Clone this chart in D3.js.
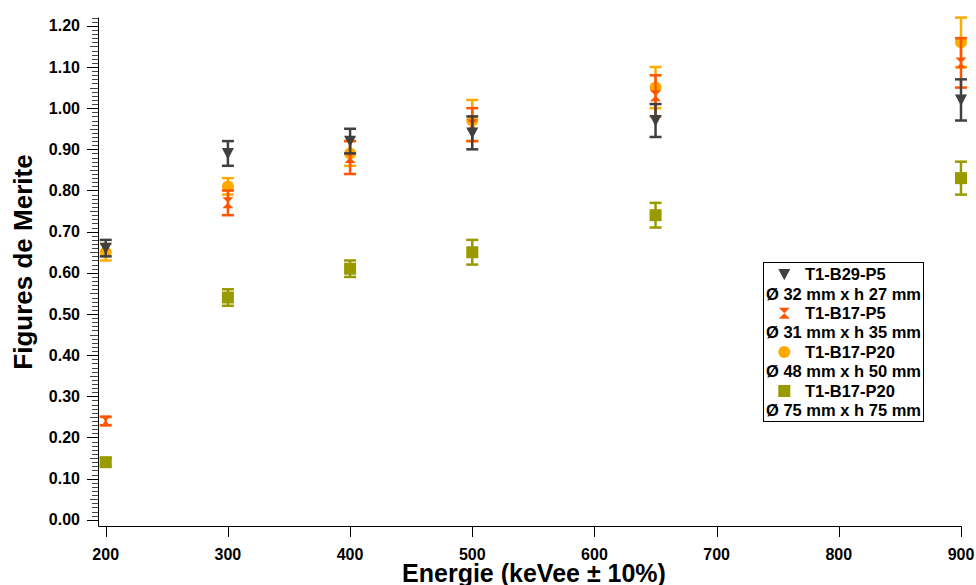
<!DOCTYPE html>
<html>
<head>
<meta charset="utf-8">
<script src="https://cdn.jsdelivr.net/npm/d3@7/dist/d3.min.js"></script>
<style>
  html, body { margin: 0; padding: 0; background: #fff; }
  svg { display: block; font-family: "Liberation Sans", Arial, Helvetica, sans-serif; font-weight: bold; }
</style>
</head>
<body>
<svg id="chart" width="976" height="585"></svg>
<script>
// ---- data ----
const energies = [200, 300, 400, 500, 650, 900];
const xTicks = [200, 300, 400, 500, 600, 700, 800, 900];
const yTicks = [0.0, 0.1, 0.2, 0.3, 0.4, 0.5, 0.6, 0.7, 0.8, 0.9, 1.0, 1.1, 1.2];

const seriesNames = ["T1-B29-P5", "T1-B17-P5", "T1-B17-P20", "T1-B17-P20"];
const seriesDims = ["Ø 32 mm x h 27 mm", "Ø 31 mm x h 35 mm", "Ø 48 mm x h 50 mm", "Ø 75 mm x h 75 mm"];

const b29p5Values = [0.66, 0.89, 0.92, 0.94, 0.97, 1.02];
const b29p5Errors = [0.02, 0.03, 0.03, 0.04, 0.04, 0.05];
const b17p5Values = [0.24, 0.77, 0.88, 0.96, 1.03, 1.11];
const b17p5Errors = [0.01, 0.03, 0.04, 0.04, 0.05, 0.06];
const b17p20Values = [0.65, 0.81, 0.89, 0.97, 1.05, 1.16];
const b17p20Errors = [0.02, 0.02, 0.03, 0.05, 0.05, 0.06];
const b17p20LargeValues = [0.14, 0.54, 0.61, 0.65, 0.74, 0.83];
const b17p20LargeErrors = [0.01, 0.02, 0.02, 0.03, 0.03, 0.04];

// ---- setup ----
const svg = d3.select("#chart");
const x = d3.scaleLinear().domain([194.5, 900]).range([99, 961]);
const y = d3.scaleLinear().domain([-0.015, 1.22]).range([526, 17.6]);

const series = [
  { key: 0, values: b29p5Values, errors: b29p5Errors, color: "#404040", shape: "tri" },
  { key: 1, values: b17p5Values, errors: b17p5Errors, color: "#FF5500", shape: "bow" },
  { key: 2, values: b17p20Values, errors: b17p20Errors, color: "#FFAA00", shape: "circle" },
  { key: 3, values: b17p20LargeValues, errors: b17p20LargeErrors, color: "#999900", shape: "square" }
];

function markerPath(shape) {
  const s = 6;
  if (shape === "tri") return `M${-s},${-s*0.9}L${s},${-s*0.9}L0,${s*1.0}Z`;
  if (shape === "bow") return `M${-5.5},${-5.5}L${5.5},${-5.5}L0,0L${5.5},${5.5}L${-5.5},${5.5}L0,0Z`;
  if (shape === "square") return `M${-s},${-s}L${s},${-s}L${s},${s}L${-s},${s}Z`;
  return d3.arc()({innerRadius: 0, outerRadius: s, startAngle: 0, endAngle: 2 * Math.PI});
}

// ---- axes ----
const minorY = d3.range(0, 123).map(i => i / 100);
const yAxisG = svg.append("g");
yAxisG.selectAll("line.minor").data(minorY).join("line")
  .attr("x1", d => {
    const k = Math.round(d * 100);
    return k % 10 === 0 ? 87 : (k % 5 === 0 ? 90 : 92);
  })
  .attr("x2", 99)
  .attr("y1", d => Math.round(y(d)) + 0.5)
  .attr("y2", d => Math.round(y(d)) + 0.5)
  .attr("stroke", d => Math.round(d * 100) % 10 === 0 ? "#000" : "#444")
  .attr("stroke-width", 1);
yAxisG.append("line")
  .attr("x1", 98.5).attr("x2", 98.5)
  .attr("y1", y(1.22)).attr("y2", 526.5)
  .attr("stroke", "#000").attr("stroke-width", 1);
yAxisG.selectAll("text").data(yTicks).join("text")
  .attr("x", 80).attr("y", d => y(d) + 5.6)
  .attr("text-anchor", "end")
  .attr("font-size", 16)
  .attr("fill", "#000")
  .text(d => d.toFixed(2));

// x axis
const xAxisG = svg.append("g");
xAxisG.append("line")
  .attr("x1", 98.5).attr("x2", 961.5)
  .attr("y1", 526.5).attr("y2", 526.5)
  .attr("stroke", "#000").attr("stroke-width", 1);
xAxisG.selectAll("line.tick").data(xTicks).join("line")
  .attr("x1", d => Math.round(x(d)) + 0.5)
  .attr("x2", d => Math.round(x(d)) + 0.5)
  .attr("y1", 526.5).attr("y2", 537)
  .attr("stroke", "#000").attr("stroke-width", 1);
xAxisG.selectAll("text").data(xTicks).join("text")
  .attr("x", d => x(d)).attr("y", 560)
  .attr("text-anchor", "middle")
  .attr("font-size", 16)
  .attr("fill", "#000")
  .text(d => d);

// titles
svg.append("text")
  .attr("x", 534).attr("y", 582)
  .attr("text-anchor", "middle")
  .attr("font-size", 25)
  .attr("fill", "#000")
  .text("Energie (keVee ± 10%)");
svg.append("text")
  .attr("transform", "translate(32,262) rotate(-90)")
  .attr("text-anchor", "middle")
  .attr("font-size", 26)
  .attr("fill", "#000")
  .text("Figures de Merite");

// ---- data marks ----
const drawOrder = [3, 2, 1, 0];
drawOrder.forEach(i => {
  const s = series[i];
  const g = svg.append("g");
  const pts = energies.map((e, j) => ({ e, v: s.values[j], err: s.errors[j] }));
  g.selectAll("line.stem").data(pts).join("line")
    .attr("x1", d => x(d.e)).attr("x2", d => x(d.e))
    .attr("y1", d => y(d.v + d.err)).attr("y2", d => y(d.v - d.err))
    .attr("stroke", s.color).attr("stroke-width", 2.5);
  [1, -1].forEach(sign => {
    g.selectAll(null).data(pts).join("line")
      .attr("x1", d => x(d.e) - 6).attr("x2", d => x(d.e) + 6)
      .attr("y1", d => y(d.v + sign * d.err)).attr("y2", d => y(d.v + sign * d.err))
      .attr("stroke", s.color).attr("stroke-width", 2.5);
  });
  g.selectAll("path").data(pts).join("path")
    .attr("transform", d => `translate(${x(d.e)},${y(d.v)})`)
    .attr("d", markerPath(s.shape))
    .attr("fill", s.color);
});

// ---- legend ----
const lg = svg.append("g");
lg.append("rect")
  .attr("x", 763.5).attr("y", 262.5).attr("width", 160).attr("height", 159)
  .attr("fill", "#fff").attr("stroke", "#000").attr("stroke-width", 1);
series.forEach((s, i) => {
  const cy = 274.3 + i * 38.9;
  lg.append("path")
    .attr("transform", `translate(784.3,${cy})`)
    .attr("d", markerPath(s.shape))
    .attr("fill", s.color);
  lg.append("text")
    .attr("x", 805).attr("y", cy + 5.8)
    .attr("font-size", 16.5).attr("fill", "#000")
    .text(seriesNames[i]);
  lg.append("text")
    .attr("x", 766).attr("y", cy + 19.4 + 5.8)
    .attr("font-size", 16.5).attr("fill", "#000")
    .text(seriesDims[i]);
});
</script>
</body>
</html>
